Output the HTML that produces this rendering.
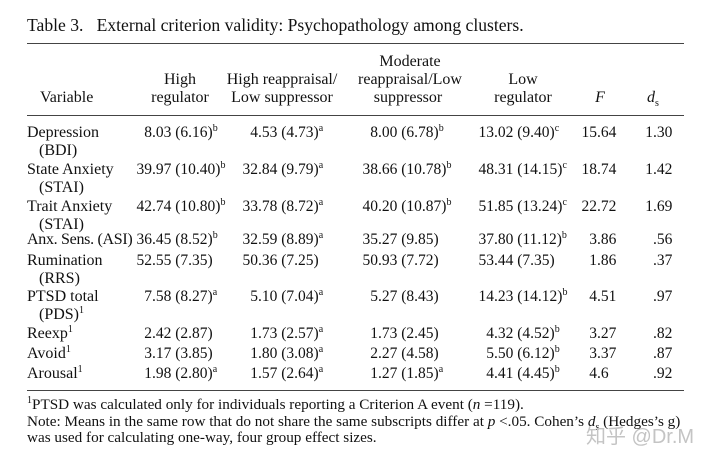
<!DOCTYPE html>
<html><head><meta charset="utf-8"><style>
body{margin:0;width:720px;height:466px;background:#fff;font-family:"Liberation Serif",serif;color:#111;position:relative;overflow:hidden;font-size:16px}
.a{position:absolute;white-space:nowrap;line-height:18px}
.c{transform:translateX(-50%);text-align:center}
.r{transform:translateX(-100%)}
.d{position:absolute;white-space:nowrap;line-height:18px;font-size:15.5px}
.d b{position:absolute;right:100%;font-weight:normal}
.rule{position:absolute;left:27px;width:657px;height:1.4px;background:#444}
sup{font-size:10px;line-height:0;vertical-align:6px}
sub{font-size:10px;line-height:0}
.f{position:absolute;left:27px;white-space:nowrap;line-height:16px;font-size:15.2px}
</style></head><body>
<div class="a" style="left:27px;top:16px;font-size:17.6px">Table 3.&nbsp;&nbsp; External criterion validity: Psychopathology among clusters.</div>
<div class="rule" style="top:43px"></div>
<div class="a c" style="left:410px;top:53px">Moderate</div>
<div class="a c" style="left:180px;top:71px">High</div>
<div class="a c" style="left:282px;top:71px">High reappraisal/</div>
<div class="a c" style="left:410px;top:71px">reappraisal/Low</div>
<div class="a c" style="left:523px;top:71px">Low</div>
<div class="a" style="left:40px;top:89px">Variable</div>
<div class="a c" style="left:180px;top:89px">regulator</div>
<div class="a c" style="left:282px;top:89px">Low suppressor</div>
<div class="a c" style="left:408px;top:89px">suppressor</div>
<div class="a c" style="left:523px;top:89px">regulator</div>
<div class="a c" style="left:600px;top:89px"><i>F</i></div>
<div class="a c" style="left:653px;top:89px"><i>d</i><sub>s</sub></div>
<div class="rule" style="top:115px"></div>

<div class="a" style="left:27px;top:124px">Depression<br>&nbsp;&nbsp;&nbsp;(BDI)</div>
<div class="d" style="left:152px;top:124px"><b>8</b>.03 (6.16)<sup>b</sup></div>
<div class="d" style="left:258px;top:124px"><b>4</b>.53 (4.73)<sup>a</sup></div>
<div class="d" style="left:378px;top:124px"><b>8</b>.00 (6.78)<sup>b</sup></div>
<div class="d" style="left:494px;top:124px"><b>13</b>.02 (9.40)<sup>c</sup></div>
<div class="d" style="left:597px;top:124px"><b>15</b>.64</div>
<div class="d" style="left:653px;top:124px"><b>1</b>.30</div>

<div class="a" style="left:27px;top:161px">State Anxiety<br>&nbsp;&nbsp;&nbsp;(STAI)</div>
<div class="d" style="left:152px;top:161px"><b>39</b>.97 (10.40)<sup>b</sup></div>
<div class="d" style="left:258px;top:161px"><b>32</b>.84 (9.79)<sup>a</sup></div>
<div class="d" style="left:378px;top:161px"><b>38</b>.66 (10.78)<sup>b</sup></div>
<div class="d" style="left:494px;top:161px"><b>48</b>.31 (14.15)<sup>c</sup></div>
<div class="d" style="left:597px;top:161px"><b>18</b>.74</div>
<div class="d" style="left:653px;top:161px"><b>1</b>.42</div>

<div class="a" style="left:27px;top:198px">Trait Anxiety<br>&nbsp;&nbsp;&nbsp;(STAI)</div>
<div class="d" style="left:152px;top:198px"><b>42</b>.74 (10.80)<sup>b</sup></div>
<div class="d" style="left:258px;top:198px"><b>33</b>.78 (8.72)<sup>a</sup></div>
<div class="d" style="left:378px;top:198px"><b>40</b>.20 (10.87)<sup>b</sup></div>
<div class="d" style="left:494px;top:198px"><b>51</b>.85 (13.24)<sup>c</sup></div>
<div class="d" style="left:597px;top:198px"><b>22</b>.72</div>
<div class="d" style="left:653px;top:198px"><b>1</b>.69</div>

<div class="a" style="left:27px;top:231px;letter-spacing:-0.3px">Anx. Sens. (ASI)</div>
<div class="d" style="left:152px;top:231px"><b>36</b>.45 (8.52)<sup>b</sup></div>
<div class="d" style="left:258px;top:231px"><b>32</b>.59 (8.89)<sup>a</sup></div>
<div class="d" style="left:378px;top:231px"><b>35</b>.27 (9.85)</div>
<div class="d" style="left:494px;top:231px"><b>37</b>.80 (11.12)<sup>b</sup></div>
<div class="d" style="left:597px;top:231px"><b>3</b>.86</div>
<div class="d" style="left:653px;top:231px">.56</div>

<div class="a" style="left:27px;top:252px">Rumination<br>&nbsp;&nbsp;&nbsp;(RRS)</div>
<div class="d" style="left:152px;top:252px"><b>52</b>.55 (7.35)</div>
<div class="d" style="left:258px;top:252px"><b>50</b>.36 (7.25)</div>
<div class="d" style="left:378px;top:252px"><b>50</b>.93 (7.72)</div>
<div class="d" style="left:494px;top:252px"><b>53</b>.44 (7.35)</div>
<div class="d" style="left:597px;top:252px"><b>1</b>.86</div>
<div class="d" style="left:653px;top:252px">.37</div>

<div class="a" style="left:27px;top:288px">PTSD total<br>&nbsp;&nbsp;&nbsp;(PDS)<sup>1</sup></div>
<div class="d" style="left:152px;top:288px"><b>7</b>.58 (8.27)<sup>a</sup></div>
<div class="d" style="left:258px;top:288px"><b>5</b>.10 (7.04)<sup>a</sup></div>
<div class="d" style="left:378px;top:288px"><b>5</b>.27 (8.43)</div>
<div class="d" style="left:494px;top:288px"><b>14</b>.23 (14.12)<sup>b</sup></div>
<div class="d" style="left:597px;top:288px"><b>4</b>.51</div>
<div class="d" style="left:653px;top:288px">.97</div>

<div class="a" style="left:27px;top:325px">Reexp<sup>1</sup></div>
<div class="d" style="left:152px;top:325px"><b>2</b>.42 (2.87)</div>
<div class="d" style="left:258px;top:325px"><b>1</b>.73 (2.57)<sup>a</sup></div>
<div class="d" style="left:378px;top:325px"><b>1</b>.73 (2.45)</div>
<div class="d" style="left:494px;top:325px"><b>4</b>.32 (4.52)<sup>b</sup></div>
<div class="d" style="left:597px;top:325px"><b>3</b>.27</div>
<div class="d" style="left:653px;top:325px">.82</div>

<div class="a" style="left:27px;top:345px">Avoid<sup>1</sup></div>
<div class="d" style="left:152px;top:345px"><b>3</b>.17 (3.85)</div>
<div class="d" style="left:258px;top:345px"><b>1</b>.80 (3.08)<sup>a</sup></div>
<div class="d" style="left:378px;top:345px"><b>2</b>.27 (4.58)</div>
<div class="d" style="left:494px;top:345px"><b>5</b>.50 (6.12)<sup>b</sup></div>
<div class="d" style="left:597px;top:345px"><b>3</b>.37</div>
<div class="d" style="left:653px;top:345px">.87</div>

<div class="a" style="left:27px;top:365px">Arousal<sup>1</sup></div>
<div class="d" style="left:152px;top:365px"><b>1</b>.98 (2.80)<sup>a</sup></div>
<div class="d" style="left:258px;top:365px"><b>1</b>.57 (2.64)<sup>a</sup></div>
<div class="d" style="left:378px;top:365px"><b>1</b>.27 (1.85)<sup>a</sup></div>
<div class="d" style="left:494px;top:365px"><b>4</b>.41 (4.45)<sup>b</sup></div>
<div class="d" style="left:597px;top:365px"><b>4</b>.6</div>
<div class="d" style="left:653px;top:365px">.92</div>

<div class="rule" style="top:390px"></div>
<div class="f" style="top:397px"><sup>1</sup>PTSD was calculated only for individuals reporting a Criterion A event (<i>n</i> =119).</div>
<div class="f" style="top:414px">Note: Means in the same row that do not share the same subscripts differ at <i>p</i> &lt;.05. Cohen’s <i>d</i><sub>s</sub> (Hedges’s g)</div>
<div class="f" style="top:430px">was used for calculating one-way, four group effect sizes.</div>
<div class="a" style="left:586px;top:426px;font-size:20px;line-height:22px;color:#c4c4c4;font-family:'Liberation Sans','Noto Sans CJK SC',sans-serif">知乎 @Dr.M</div>
</body></html>
